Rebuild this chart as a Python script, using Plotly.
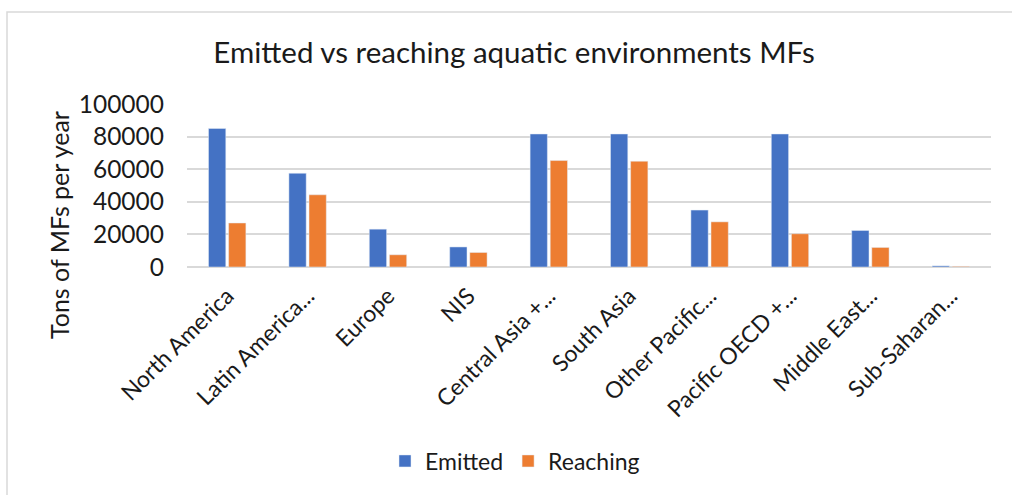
import plotly.graph_objects as go

# Regions and annual microfibre tonnages
regions = [
    "North America", "Latin America...", "Europe", "NIS", "Central Asia +...",
    "South Asia", "Other Pacific...", "Pacific OECD +...", "Middle East...", "Sub-Saharan...",
]
emitted = [85000, 57500, 23200, 12300, 81600, 81600, 34900, 81600, 22400, 700]
reaching = [27000, 44300, 7500, 8900, 65300, 64900, 27700, 20400, 12000, 400]
y_ticks = [0, 20000, 40000, 60000, 80000, 100000]

W, H = 1012, 495
M_L, M_R, M_T, M_B = 187, 21, 104, 228
PW, PH = W - M_L - M_R, H - M_T - M_B

def px_x(x):
    return (x - M_L) / PW

def px_y(y):
    return (H - M_B - y) / PH

FONT = "Lato"
TXT = "#1a1a1a"
GRID = "#d9d9d9"

fig = go.Figure()
fig.add_trace(go.Bar(name="Emitted", x=regions, y=emitted, marker_color="#4472C4"))
fig.add_trace(go.Bar(name="Reaching", x=regions, y=reaching, marker_color="#ED7D31"))

fig.update_layout(
    width=W, height=H,
    margin=dict(l=M_L, r=M_R, t=M_T, b=M_B),
    paper_bgcolor="white", plot_bgcolor="white",
    barmode="group", bargap=0.5, bargroupgap=0.14,
    font=dict(family=FONT, color=TXT),
    title=dict(
        text="Emitted vs reaching aquatic environments MFs",
        x=514 / W, xanchor="center", xref="container",
        y=1 - 53 / H, yanchor="middle", yref="container",
        font=dict(size=29.5, family=FONT, color=TXT),
    ),
    legend=dict(
        orientation="h", x=515 / W, xanchor="center", xref="container",
        y=1 - 461 / H, yanchor="middle", yref="container",
        font=dict(size=23, family=FONT, color=TXT),
        itemwidth=30, traceorder="normal",
    ),
    showlegend=True,
)

fig.update_xaxes(
    tickangle=-45, tickfont=dict(size=23, family=FONT, color=TXT),
    showgrid=False, showline=False, ticks="", ticklabelstandoff=10,
)
fig.update_yaxes(
    range=[0, 100000], tickvals=y_ticks, ticktext=[str(v) for v in y_ticks],
    tickfont=dict(size=24.5, family=FONT, color=TXT),
    showgrid=True, gridcolor=GRID, gridwidth=1.5,
    zeroline=True, zerolinecolor=GRID, zerolinewidth=1.5,
    showline=False, ticks="", ticklabelstandoff=22,
)

# Vertical axis title
fig.add_annotation(
    text="Tons of MFs per year", textangle=-90,
    x=px_x(59), y=px_y(225), xref="paper", yref="paper",
    xanchor="center", yanchor="middle", showarrow=False,
    font=dict(size=25, family=FONT, color=TXT),
)

# Chart-area frame (left and top edges visible)
fig.add_shape(
    type="rect", xref="paper", yref="paper",
    x0=px_x(7), x1=px_x(W + 5), y0=px_y(H + 5), y1=px_y(12),
    line=dict(color=GRID, width=1.5), fillcolor="rgba(0,0,0,0)", layer="below",
)

fig.write_html("out.html")
